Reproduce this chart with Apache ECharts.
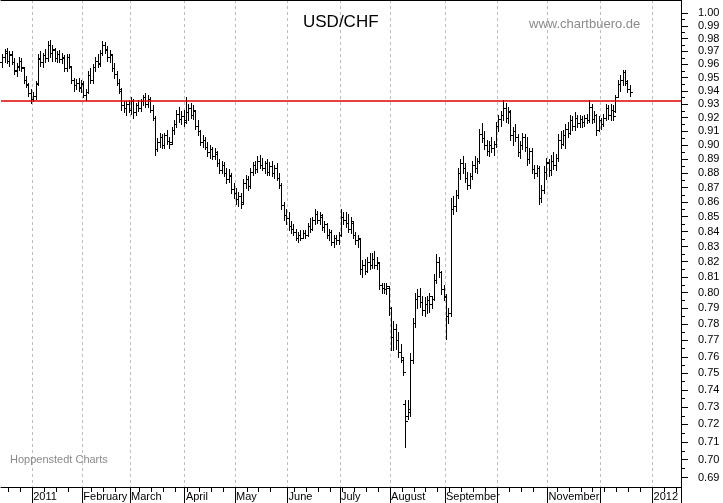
<!DOCTYPE html>
<html><head><meta charset="utf-8">
<script src="https://cdn.jsdelivr.net/npm/echarts@6/dist/echarts.min.js"></script>
<style>html,body{margin:0;padding:0;background:#fff}#c{width:723px;height:503px}</style>
</head><body><div id="c"></div>
<script>
// ---- categories ----
const START_DATE = '2010-12-15';
const CATEGORY_COUNT = 285;
const monthLabels = {
  '2011-01': '2011', '2011-02': 'February', '2011-03': 'March', '2011-04': 'April',
  '2011-05': 'May', '2011-06': 'June', '2011-07': 'July', '2011-08': 'August',
  '2011-09': 'September', '2011-10': '', '2011-11': 'November', '2011-12': '', '2012-01': '2012'
};
// ---- price axis ticks ----
const yTickLabels = [0.69,0.70,0.71,0.72,0.73,0.74,0.75,0.76,0.77,0.78,0.79,0.80,0.81,0.82,0.83,0.84,0.85,0.86,0.87,0.88,0.89,0.90,0.91,0.92,0.93,0.94,0.95,0.96,0.97,0.98,0.99,1.00];
const yRange = [0.6849, 1.0107];
const refLevel = 0.9335;
// ---- OHLC data [open, high, low, close] per trading day ----
const dec2010 = [
[.962,.968,.958,.966],[.966,.972,.962,.970],[.969,.973,.961,.963],[.963,.970,.959,.968],
[.967,.970,.960,.962],[.962,.965,.953,.955],[.956,.961,.951,.959],[.958,.966,.956,.963],
[.963,.965,.955,.958],[.957,.958,.946,.948],[.948,.951,.943,.945],[.944,.946,.936,.938],
[.938,.941,.931,.934]];
const jan2011 = [
[.934,.939,.932,.936],[.936,.947,.934,.945],[.946,.968,.944,.965],[.964,.970,.959,.962],
[.962,.969,.958,.967],[.967,.972,.962,.965],[.965,.978,.963,.975],[.975,.979,.966,.969],
[.969,.975,.963,.972],[.971,.973,.963,.965],[.965,.970,.962,.968],[.968,.971,.962,.964],
[.964,.969,.961,.966],[.965,.967,.955,.957],[.957,.968,.955,.966],[.966,.968,.957,.959],
[.958,.959,.946,.948],[.948,.950,.940,.944],[.944,.949,.941,.946],[.946,.950,.940,.942],
[.943,.948,.939,.946]];
const feb2011 = [
[.945,.947,.935,.937],[.937,.941,.933,.939],[.939,.955,.938,.952],[.952,.957,.946,.948],
[.948,.960,.946,.958],[.958,.966,.955,.963],[.963,.968,.958,.960],[.961,.971,.959,.969],
[.969,.978,.967,.975],[.975,.977,.969,.972],[.971,.974,.963,.966],[.966,.971,.962,.968],
[.967,.968,.955,.957],[.957,.961,.950,.953],[.953,.955,.944,.946],[.946,.949,.938,.941],
[.940,.942,.926,.929],[.929,.932,.924,.927],[.927,.932,.922,.930],[.930,.933,.924,.926]];
const mar2011 = [
[.926,.935,.923,.932],[.932,.934,.920,.924],[.924,.931,.922,.929],[.929,.933,.925,.927],
[.927,.934,.925,.932],[.932,.937,.929,.935],[.935,.938,.928,.930],[.930,.937,.928,.934],
[.934,.935,.924,.926],[.926,.929,.918,.920],[.920,.921,.893,.897],[.897,.905,.896,.902],
[.902,.909,.899,.906],[.906,.908,.898,.900],[.900,.909,.898,.907],[.907,.911,.901,.903],
[.903,.906,.898,.901],[.902,.913,.901,.911],[.911,.918,.908,.915],[.915,.926,.913,.923],
[.923,.928,.917,.919],[.919,.925,.915,.921],[.921,.926,.914,.917]];
const apr2011 = [
[.918,.935,.916,.924],[.924,.930,.918,.927],[.927,.931,.920,.922],[.922,.929,.919,.926],
[.925,.926,.912,.914],[.914,.918,.907,.910],[.910,.911,.900,.902],[.902,.907,.899,.904],
[.904,.906,.897,.899],[.899,.902,.892,.895],[.895,.900,.891,.897],[.897,.899,.890,.892],
[.892,.898,.890,.895],[.894,.896,.885,.887],[.887,.890,.880,.882],[.882,.889,.880,.886],
[.886,.888,.878,.880],[.880,.884,.873,.876],[.876,.883,.874,.879],[.878,.880,.866,.869],
[.869,.873,.863,.866]];
const may2011 = [
[.866,.870,.859,.862],[.862,.867,.857,.864],[.864,.866,.856,.859],[.860,.876,.859,.873],
[.873,.879,.870,.876],[.876,.878,.868,.871],[.871,.884,.870,.881],[.881,.888,.879,.886],
[.886,.889,.880,.883],[.883,.892,.881,.889],[.889,.893,.884,.886],[.886,.891,.882,.884],
[.884,.889,.880,.887],[.887,.890,.879,.881],[.881,.888,.879,.885],[.885,.889,.878,.880],
[.880,.886,.877,.884],[.884,.887,.875,.877],[.877,.880,.870,.872],[.872,.873,.855,.858],
[.858,.860,.848,.851],[.851,.855,.845,.849]];
const jun2011 = [
[.849,.853,.841,.844],[.844,.847,.839,.842],[.842,.845,.838,.840],[.840,.842,.834,.836],
[.836,.840,.833,.838],[.838,.841,.834,.836],[.836,.841,.836,.839],[.839,.841,.836,.838],
[.838,.846,.837,.844],[.844,.849,.840,.842],[.842,.850,.841,.848],[.848,.855,.845,.852],
[.852,.854,.846,.848],[.848,.853,.845,.851],[.850,.852,.841,.843],[.843,.847,.840,.845],
[.845,.846,.836,.838],[.838,.842,.834,.840],[.840,.841,.831,.833],[.833,.838,.830,.836],
[.836,.838,.832,.834],[.834,.840,.832,.838]];
const jul2011 = [
[.838,.855,.837,.850],[.850,.853,.845,.848],[.848,.853,.843,.846],[.846,.852,.840,.842],
[.842,.850,.839,.847],[.846,.847,.836,.838],[.838,.840,.832,.834],[.834,.838,.830,.836],
[.835,.836,.812,.815],[.815,.821,.810,.818],[.818,.822,.812,.814],[.814,.823,.813,.820],
[.820,.826,.815,.818],[.818,.826,.816,.822],[.822,.827,.816,.818],[.818,.823,.815,.820],
[.819,.820,.802,.805],[.805,.806,.800,.803],[.803,.806,.800,.802],[.802,.806,.799,.804],
[.803,.804,.786,.790]];
const aug2011 = [
[.790,.791,.764,.772],[.772,.782,.764,.777],[.777,.780,.765,.770],[.770,.775,.760,.763],
[.763,.768,.757,.760],[.758,.759,.749,.751],[.732,.734,.707,.722],[.725,.734,.723,.729],
[.727,.762,.725,.758],[.758,.784,.756,.781],[.781,.800,.778,.796],[.796,.802,.790,.798],
[.798,.803,.791,.794],[.794,.798,.786,.789],[.789,.797,.785,.793],[.793,.798,.787,.795],
[.795,.800,.788,.798],[.793,.798,.790,.796],[.796,.812,.795,.808],[.808,.825,.806,.820],
[.820,.823,.810,.813],[.813,.814,.799,.802],[.802,.805,.795,.798]];
const sep2011 = [
[.797,.799,.771,.785],[.785,.790,.781,.787],[.787,.863,.785,.855],[.855,.864,.852,.857],
[.857,.868,.854,.865],[.865,.884,.863,.880],[.880,.890,.876,.887],[.887,.892,.880,.884],
[.884,.887,.874,.877],[.877,.881,.869,.872],[.872,.880,.870,.878],[.878,.889,.876,.886],
[.886,.892,.881,.884],[.884,.891,.880,.889],[.889,.912,.887,.908],[.908,.916,.902,.905],
[.905,.910,.897,.900],[.900,.904,.893,.896],[.896,.903,.892,.900],[.900,.906,.895,.898],
[.898,.903,.893,.901],[.901,.917,.899,.914]];
const oct2011 = [
[.914,.922,.910,.919],[.919,.925,.914,.922],[.922,.933,.918,.927],[.927,.931,.917,.920],
[.920,.928,.916,.925],[.924,.926,.904,.907],[.907,.913,.900,.910],[.910,.915,.903,.906],
[.906,.908,.892,.895],[.895,.903,.891,.900],[.900,.909,.897,.906],[.906,.908,.896,.899],
[.899,.906,.886,.890],[.890,.898,.887,.896],[.896,.898,.880,.883],[.883,.886,.877,.880],
[.880,.886,.878,.884],[.884,.885,.859,.863],[.863,.872,.860,.868],[.868,.885,.866,.881],
[.881,.891,.876,.888]];
const nov2011 = [
[.887,.890,.878,.882],[.882,.893,.879,.889],[.889,.895,.883,.886],[.886,.894,.882,.891],
[.891,.908,.889,.904],[.904,.910,.898,.901],[.901,.911,.900,.907],[.907,.915,.898,.912],
[.912,.917,.906,.909],[.909,.922,.908,.918],[.918,.921,.911,.914],[.914,.924,.911,.920],
[.920,.922,.913,.916],[.916,.922,.913,.919],[.919,.921,.913,.917],[.917,.922,.914,.920],
[.920,.923,.916,.918],[.918,.933,.917,.928],[.928,.930,.916,.919],[.919,.925,.917,.922],
[.922,.923,.907,.911],[.911,.921,.910,.918]];
const dec2011 = [
[.918,.920,.912,.915],[.915,.923,.914,.920],[.920,.930,.918,.927],[.927,.929,.919,.922],
[.922,.930,.918,.926],[.926,.929,.918,.921],[.925,.937,.924,.935],[.935,.948,.935,.945],
[.945,.952,.940,.948],[.948,.956,.944,.954],[.954,.956,.944,.947],[.946,.948,.939,.941],
[.941,.944,.936,.939]];

// ---- build ----
function weekdays(start, n) {
  const out = []; const d = new Date(start + 'T00:00:00Z');
  while (out.length < n) {
    const wd = d.getUTCDay();
    if (wd !== 0 && wd !== 6) out.push(d.toISOString().slice(0, 10));
    d.setUTCDate(d.getUTCDate() + 1);
  }
  return out;
}
const dates = weekdays(START_DATE, CATEGORY_COUNT);
const monthStart = new Set();
dates.forEach((d, i) => { if (i > 0 && d.slice(0, 7) !== dates[i - 1].slice(0, 7)) monthStart.add(i); });
const weekTick = new Set();
dates.forEach((d, i) => {
  const wd = new Date(d + 'T00:00:00Z').getUTCDay();
  if (wd === 1 && !monthStart.has(i) && !monthStart.has(i + 1) && !monthStart.has(i + 2)) weekTick.add(i);
});
const ohlc = [].concat(dec2010, jan2011, feb2011, mar2011, apr2011, may2011, jun2011, jul2011,
  aug2011, sep2011, oct2011, nov2011, dec2011);
const seriesData = ohlc.map((b, i) => [i, Math.log(b[0]), Math.log(b[1]), Math.log(b[2]), Math.log(b[3])]);
const majorTicks = yTickLabels.map(v => Math.log(v));
const minorTicks = yTickLabels.slice(0, -1).map((v, k) => Math.log((v + yTickLabels[k + 1]) / 2));
const FONT = '"Liberation Sans", Arial, sans-serif';

const chart = echarts.init(document.getElementById('c'), null, { renderer: 'canvas' });
const yBase = { type: 'value', position: 'right', min: Math.log(yRange[0]), max: Math.log(yRange[1]), splitLine: { show: false }, scale: true };
chart.setOption({
  animation: false,
  backgroundColor: '#fff',
  title: [
    { text: 'USD/CHF', left: 303, top: 14, padding: 0, textStyle: { fontFamily: FONT, fontSize: 17, fontWeight: 'normal', color: '#000' } },
    { text: 'www.chartbuero.de', left: 529, top: 18, padding: 0, textStyle: { fontFamily: FONT, fontSize: 13, fontWeight: 'normal', color: '#8a8a8a' } },
    { text: 'Hoppenstedt Charts', left: 10, top: 454, padding: 0, textStyle: { fontFamily: FONT, fontSize: 11, fontWeight: 'normal', color: '#8a8a8a' } }
  ],
  grid: { left: 1, right: 42, top: 0, bottom: 16, containLabel: false },
  xAxis: [
    { type: 'category', data: dates, position: 'bottom', boundaryGap: true,
      axisLine: { show: true, onZero: false, lineStyle: { color: '#000', width: 1 } },
      axisTick: { show: true, length: 16, interval: (i) => monthStart.has(i), lineStyle: { color: '#000' } },
      axisLabel: { show: true, interval: (i) => monthStart.has(i), align: 'left', margin: 4,
        formatter: (v) => monthLabels[v.slice(0, 7)] || '', fontFamily: FONT, fontSize: 11, color: '#000' },
      splitLine: { show: true, interval: (i) => monthStart.has(i), lineStyle: { color: '#bdbdbd', type: [3, 3], width: 1 } } },
    { type: 'category', data: dates, position: 'bottom', boundaryGap: true,
      axisLine: { show: false, onZero: false },
      axisTick: { show: true, length: 5, interval: (i) => weekTick.has(i), lineStyle: { color: '#000' } },
      axisLabel: { show: false }, splitLine: { show: false } },
    { type: 'category', data: dates, position: 'top', boundaryGap: true,
      axisLine: { show: true, onZero: false, lineStyle: { color: '#000', width: 1 } },
      axisTick: { show: false }, axisLabel: { show: false }, splitLine: { show: false } }
  ],
  yAxis: [
    Object.assign({}, yBase, {
      axisLine: { show: true, onZero: false, lineStyle: { color: '#000' } },
      axisTick: { show: true, length: 7, customValues: majorTicks, lineStyle: { color: '#000' } },
      axisLabel: { show: true, customValues: majorTicks, margin: 17, formatter: (v) => Math.exp(v).toFixed(2),
        fontFamily: FONT, fontSize: 11, color: '#000' } }),
    Object.assign({}, yBase, {
      axisLine: { show: false, onZero: false },
      axisTick: { show: true, length: 4, customValues: minorTicks, lineStyle: { color: '#000' } },
      axisLabel: { show: false } })
  ],
  series: [{
    type: 'custom', xAxisIndex: 0, yAxisIndex: 0,
    data: seriesData,
    encode: { x: 0, y: [1, 2, 3, 4] },
    renderItem: function (params, api) {
      const i = api.value(0);
      const o = api.coord([i, api.value(1)]);
      const h = api.coord([i, api.value(2)]);
      const l = api.coord([i, api.value(3)]);
      const c = api.coord([i, api.value(4)]);
      const x = Math.round(o[0]) + 0.5;
      const oy = Math.round(o[1]) + 0.5, cy = Math.round(c[1]) + 0.5;
      const st = { stroke: '#000', lineWidth: 1 };
      return { type: 'group', children: [
        { type: 'line', shape: { x1: x, y1: Math.round(h[1]), x2: x, y2: Math.round(l[1]) + 1 }, style: st },
        { type: 'line', shape: { x1: x - 2.5, y1: oy, x2: x, y2: oy }, style: st },
        { type: 'line', shape: { x1: x, y1: cy, x2: x + 2.5, y2: cy }, style: st }
      ] };
    },
    markLine: { silent: true, symbol: 'none', label: { show: false },
      lineStyle: { color: '#e00000', width: 1.5, type: 'solid' },
      data: [{ yAxis: Math.log(refLevel) }] }
  }]
});
</script></body></html>
